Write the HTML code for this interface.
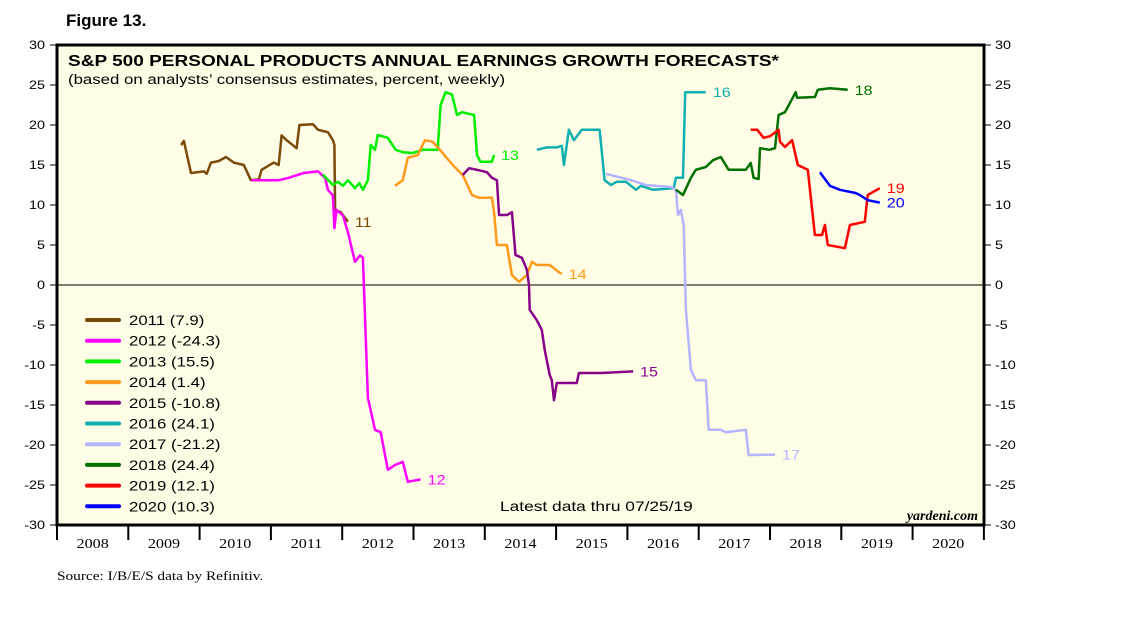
<!DOCTYPE html>
<html><head><meta charset="utf-8"><style>
body{margin:0;background:#fff;font-family:"Liberation Sans",sans-serif}
svg text{font-family:"Liberation Sans",sans-serif}
</style></head><body>
<svg id="c" width="1138" height="621" xmlns="http://www.w3.org/2000/svg">
<text x="66" y="26" font-size="17" font-weight="bold">Figure 13.</text>
<rect x="57" y="45" width="927" height="480" fill="#fffde6" stroke="#000" stroke-width="3"/>
<text transform="translate(68,66) scale(1.19,1)" font-size="16" font-weight="bold">S&amp;P 500 PERSONAL PRODUCTS ANNUAL EARNINGS GROWTH FORECASTS*</text>
<text transform="translate(68,84) scale(1.2,1)" font-size="14">(based on analysts’ consensus estimates, percent, weekly)</text>
<text transform="translate(500,511) scale(1.24,1)" font-size="14">Latest data thru 07/25/19</text>
<text x="978" y="520" font-size="14" font-style="italic" font-weight="bold" text-anchor="end" style="font-family:'Liberation Serif',serif">yardeni.com</text>
<text x="57" y="580" font-size="13" transform="translate(57,580) scale(1.18,1) translate(-57,-580)" style="font-family:'Liberation Serif',serif">Source: I/B/E/S data by Refinitiv.</text>
<g id="axes"></g><g id="series"></g><g id="legend"></g>
</svg>
<script>
const yTicks=[30,25,20,15,10,5,0,-5,-10,-15,-20,-25,-30];
const years=[2008,2009,2010,2011,2012,2013,2014,2015,2016,2017,2018,2019,2020];
const names=["2011","2012","2013","2014","2015","2016","2017","2018","2019","2020"];
const legendVals=["7.9","-24.3","15.5","1.4","-10.8","24.1","-21.2","24.4","12.1","10.3"];
const colors=["#7a4a0a","#ff00ff","#00ee00","#ff9a1a","#880088","#10b0b0","#b4b4ff","#007000","#ff0000","#0000ff"];
const endLabels=["11","12","13","14","15","16","17","18","19","20"];
const s2011t=[2009.74,2009.78,2009.88,2010.06,2010.10,2010.16,2010.27,2010.37,2010.48,2010.62,2010.72,2010.83,2010.87,2011.04,2011.11,2011.15,2011.22,2011.36,2011.40,2011.59,2011.66,2011.80,2011.87,2011.89,2011.90,2011.98,2012.08];
const s2011v=[17.5,18,14,14.2,13.9,15.3,15.5,16,15.3,15,13.1,13.2,14.4,15.3,15,18.7,18.1,17.1,20,20.1,19.4,19.1,18.1,17.5,9.4,9.1,7.9];
const s2012t=[2010.73,2011.11,2011.25,2011.46,2011.66,2011.76,2011.80,2011.87,2011.89,2011.92,2012.01,2012.08,2012.18,2012.25,2012.29,2012.36,2012.46,2012.54,2012.64,2012.74,2012.85,2012.92,2013.10];
const s2012v=[13.1,13.1,13.4,14,14.2,13.4,11.9,11.2,7.1,9.4,8.7,6.6,2.9,3.7,3.4,-14.1,-18.1,-18.4,-23.1,-22.5,-22.1,-24.6,-24.3];
const s2013t=[2011.73,2011.87,2011.94,2012.01,2012.08,2012.18,2012.24,2012.29,2012.36,2012.40,2012.46,2012.50,2012.64,2012.75,2012.85,2012.99,2013.13,2013.34,2013.38,2013.45,2013.54,2013.61,2013.68,2013.85,2013.89,2013.94,2014.10,2014.13];
const s2013v=[13.8,12.5,12.9,12.4,13.1,12.1,12.75,11.9,13.1,17.5,16.9,18.75,18.4,16.9,16.6,16.5,16.9,16.9,22.5,24.1,23.8,21.25,21.6,21.25,16.25,15.4,15.4,16.25];
const s2014t=[2012.74,2012.85,2012.92,2013.06,2013.16,2013.27,2013.37,2013.55,2013.69,2013.82,2013.92,2014.10,2014.13,2014.17,2014.31,2014.38,2014.48,2014.59,2014.66,2014.73,2014.80,2014.91,2015.04,2015.08];
const s2014v=[12.4,13.1,15.9,16.25,18.1,17.9,16.9,15,13.75,11.25,10.9,10.9,9.1,5,5,1.25,0.4,1.25,2.9,2.5,2.5,2.5,1.6,1.4];
const s2015t=[2013.69,2013.78,2013.89,2014.03,2014.10,2014.17,2014.20,2014.31,2014.38,2014.43,2014.52,2014.59,2014.62,2014.63,2014.73,2014.80,2014.84,2014.91,2014.94,2014.97,2015.01,2015.29,2015.32,2015.64,2016.08];
const s2015v=[13.75,14.6,14.4,14.1,13.4,13.1,8.75,8.75,9.1,3.75,3.4,1.9,0,-3.1,-4.4,-5.6,-8.1,-11.25,-11.9,-14.4,-12.25,-12.25,-11,-11,-10.8];
const s2016t=[2014.73,2014.87,2015.01,2015.08,2015.11,2015.18,2015.25,2015.36,2015.61,2015.68,2015.77,2015.85,2015.98,2016.12,2016.19,2016.36,2016.65,2016.68,2016.78,2016.81,2017.10];
const s2016v=[16.9,17.2,17.2,17.4,15,19.4,18.1,19.4,19.4,13.1,12.5,12.9,12.9,11.9,12.4,11.9,12.1,13.4,13.4,24.1,24.1];
const s2017t=[2015.70,2016.05,2016.26,2016.61,2016.68,2016.71,2016.75,2016.79,2016.82,2016.89,2016.96,2017.10,2017.14,2017.31,2017.38,2017.66,2017.70,2018.07];
const s2017v=[13.9,13.1,12.5,12.25,11.9,8.75,9.4,7.5,-3.1,-10.6,-11.9,-11.9,-18.1,-18.1,-18.4,-18.1,-21.25,-21.2];
const s2018t=[2016.68,2016.78,2016.89,2016.96,2017.10,2017.20,2017.31,2017.42,2017.66,2017.73,2017.77,2017.84,2017.86,2017.99,2018.07,2018.12,2018.21,2018.36,2018.38,2018.63,2018.67,2018.84,2019.09];
const s2018v=[11.9,11.25,13.4,14.4,14.75,15.6,16,14.4,14.4,15.25,13.4,13.25,17.1,16.9,17.1,21.25,21.6,24.1,23.4,23.5,24.4,24.6,24.4];
const s2019t=[2017.73,2017.82,2017.91,2018.00,2018.12,2018.14,2018.21,2018.31,2018.39,2018.53,2018.63,2018.73,2018.77,2018.81,2019.05,2019.12,2019.33,2019.37,2019.54];
const s2019v=[19.4,19.4,18.4,18.6,19.4,17.9,17.25,18.1,15,14.4,6.25,6.25,7.5,5,4.6,7.5,7.9,11.25,12.1];
const s2020t=[2018.70,2018.84,2018.98,2019.20,2019.26,2019.37,2019.54];
const s2020v=[14.1,12.4,11.9,11.5,11.25,10.6,10.3];
const seriesT=[s2011t,s2012t,s2013t,s2014t,s2015t,s2016t,s2017t,s2018t,s2019t,s2020t];
const seriesV=[s2011v,s2012v,s2013v,s2014v,s2015v,s2016v,s2017v,s2018v,s2019v,s2020v];

const NS="http://www.w3.org/2000/svg";
const X=t=>57+(t-2008)*71.3;
const Y=v=>285-v*8;
function mk(tag,attrs,parent,txt){const e=document.createElementNS(NS,tag);for(const k in attrs)e.setAttribute(k,attrs[k]);if(txt!==undefined)e.textContent=txt;parent.appendChild(e);return e;}
function st(x,y,sx){return 'translate('+x+','+y+') scale('+sx+',1)';}
const ax=document.getElementById('axes');
yTicks.forEach(v=>{
  let e=mk('line',{x1:50,x2:57,y1:Y(v),y2:Y(v),stroke:'#000'},ax);
  
  
  e=mk('line',{x1:984,x2:991,y1:Y(v),y2:Y(v),stroke:'#000'},ax);
  
  
  e=mk('text',{transform:st(45,Y(v)+4,1.2),'font-size':12,'text-anchor':'end'},ax,v);
  
  
  e=mk('text',{transform:st(995,Y(v)+4,1.2),'font-size':12},ax,v);
  
  
});
let zl=mk('line',{x1:57,x2:984,y1:Y(0),y2:Y(0),stroke:'#000','stroke-width':1},ax);


for(let i=0;i<=years.length;i++){
  let e=mk('line',{x1:X(2008+i),x2:X(2008+i),y1:525,y2:540,stroke:'#000','stroke-width':2},ax);
  
  
}
years.forEach(y=>{
  let e=mk('text',{transform:st(X(y+0.5),548,1.15),'font-size':14,'text-anchor':'middle',style:"font-family:'Liberation Serif',serif"},ax,y);
  
  
});
const sg=document.getElementById('series');
seriesT.forEach((ts,i)=>{
  const pts=ts.map((t,j)=>X(t).toFixed(1)+','+Y(seriesV[i][j]).toFixed(1)).join(' ');
  let p=mk('polyline',{points:pts,fill:'none',stroke:colors[i],'stroke-width':2.5,'stroke-linejoin':'round'},sg);
  
  
  const lt=ts[ts.length-1],lv=seriesV[i][seriesV[i].length-1];
  let t=mk('text',{transform:st(X(lt)+7,Y(lv)+5,1.15),'font-size':14,fill:colors[i]},sg,endLabels[i]);
  
  
});
const lg=document.getElementById('legend');
names.forEach((n,i)=>{
  const y=320+i*20.7;
  let l=mk('line',{x1:87,x2:119,y1:y,y2:y,stroke:colors[i],'stroke-width':4,'stroke-linecap':'round'},lg);
  
  
  let t=mk('text',{transform:st(129,y+5,1.2),'font-size':14},lg,n+' ('+legendVals[i]+')');
  
  
});
</script>
</body></html>
